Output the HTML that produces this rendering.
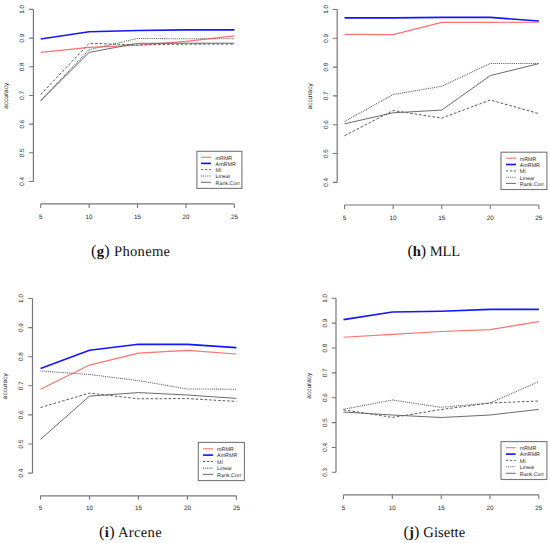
<!DOCTYPE html>
<html><head><meta charset="utf-8"><title>Accuracy plots</title>
<style>
html,body{margin:0;padding:0;background:#fff;}
body{width:550px;height:543px;overflow:hidden;}
svg{display:block;font-family:"Liberation Sans",sans-serif;text-rendering:geometricPrecision;}
text{stroke:none;}
text.cap,text.lg{stroke:none;}
.cap{font-family:"Liberation Serif",serif;font-size:14.6px;fill:#111;}
</style></head>
<body>
<svg width="550" height="543" viewBox="0 0 550 543">
<rect width="550" height="543" fill="#fff"/>
<path d="M33.4 9.4V181.48" stroke="#777777" stroke-width="1.2" fill="none"/>
<path d="M29.1 9.4H33.4M29.1 38.08H33.4M29.1 66.76H33.4M29.1 95.44H33.4M29.1 124.12H33.4M29.1 152.8H33.4M29.1 181.48H33.4" stroke="#777777" stroke-width="1.1" fill="none"/>
<text x="0" y="0" transform="translate(24.1 9.4) rotate(-90)" text-anchor="middle" font-size="6.3" fill="#262626">1.0</text>
<text x="0" y="0" transform="translate(24.1 38.08) rotate(-90)" text-anchor="middle" font-size="6.3" fill="#262626">0.9</text>
<text x="0" y="0" transform="translate(24.1 66.76) rotate(-90)" text-anchor="middle" font-size="6.3" fill="#262626">0.8</text>
<text x="0" y="0" transform="translate(24.1 95.44) rotate(-90)" text-anchor="middle" font-size="6.3" fill="#262626">0.7</text>
<text x="0" y="0" transform="translate(24.1 124.12) rotate(-90)" text-anchor="middle" font-size="6.3" fill="#262626">0.6</text>
<text x="0" y="0" transform="translate(24.1 152.8) rotate(-90)" text-anchor="middle" font-size="6.3" fill="#262626">0.5</text>
<text x="0" y="0" transform="translate(24.1 181.48) rotate(-90)" text-anchor="middle" font-size="6.3" fill="#262626">0.4</text>
<text transform="translate(8 95.84) rotate(-90)" text-anchor="middle" font-size="6.5" fill="#262626">accuracy</text>
<path d="M40.7 203.9H234.4" stroke="#777777" stroke-width="1.2" fill="none"/>
<path d="M40.7 203.9V207.9M89.12 203.9V207.9M137.55 203.9V207.9M185.97 203.9V207.9M234.4 203.9V207.9" stroke="#777777" stroke-width="1.1" fill="none"/>
<text x="40.7" y="218.5" text-anchor="middle" font-size="6.3" fill="#262626">5</text>
<text x="89.12" y="218.5" text-anchor="middle" font-size="6.3" fill="#262626">10</text>
<text x="137.55" y="218.5" text-anchor="middle" font-size="6.3" fill="#262626">15</text>
<text x="185.97" y="218.5" text-anchor="middle" font-size="6.3" fill="#262626">20</text>
<text x="234.4" y="218.5" text-anchor="middle" font-size="6.3" fill="#262626">25</text>
<path d="M40.7 52.4 L89.12 47.4 L137.55 45.3 L185.97 41.4 L234.4 35.9" stroke="#ff7272" stroke-width="1.1" fill="none" stroke-linejoin="round"/>
<path d="M40.7 39 L89.12 31.8 L137.55 30.5 L185.97 29.9 L234.4 29.9" stroke="#1616ff" stroke-width="1.65" fill="none" stroke-linejoin="round"/>
<path d="M40.7 94.5 L89.12 43.3 L137.55 45 L185.97 44.1 L234.4 44.1" stroke="#5a5a5a" stroke-width="1" stroke-dasharray="2.6 1.9" fill="none" stroke-linejoin="round"/>
<path d="M40.7 100.7 L89.12 49.7 L137.55 38.4 L185.97 38.8 L234.4 38.8" stroke="#5a5a5a" stroke-width="1.05" stroke-dasharray="0.95 0.95" fill="none" stroke-linejoin="round"/>
<path d="M40.7 100.7 L89.12 52.4 L137.55 43.3 L185.97 43.2 L234.4 43.2" stroke="#5a5a5a" stroke-width="0.9" fill="none" stroke-linejoin="round"/>
<rect x="196.9" y="151.3" width="45" height="37.1" fill="#fff" stroke="#777777" stroke-width="1.1"/>
<path d="M201 157.3H211" stroke="#ff7272" stroke-width="1.1" fill="none"/>
<text class="lg" x="215.6" y="159.6" font-size="5.35" fill="#2a2a2a">mRMR</text>
<path d="M201 163.4H211" stroke="#1616ff" stroke-width="1.65" fill="none"/>
<text class="lg" x="215.6" y="165.7" font-size="5.35" fill="#2a2a2a">AmRMR</text>
<path d="M201 169.6H211" stroke="#5a5a5a" stroke-width="1" stroke-dasharray="2.2 1.9" fill="none"/>
<text class="lg" x="215.6" y="171.9" font-size="5.35" fill="#2a2a2a">MI</text>
<path d="M201 175.9H211" stroke="#5a5a5a" stroke-width="1.05" stroke-dasharray="0.95 0.95" fill="none"/>
<text class="lg" x="215.6" y="178.2" font-size="5.35" fill="#2a2a2a">Linear</text>
<path d="M201 182.3H211" stroke="#5a5a5a" stroke-width="0.9" fill="none"/>
<text class="lg" x="215.6" y="184.6" font-size="5.35" fill="#2a2a2a">Rank.Corr</text>
<text x="91.1" y="255.8" class="cap" textLength="79" lengthAdjust="spacing"><tspan font-size="16.2px">(</tspan><tspan font-weight="bold">g</tspan><tspan font-size="16.2px">)</tspan> Phoneme</text>
<path d="M337.2 9.45V182.37" stroke="#777777" stroke-width="1.2" fill="none"/>
<path d="M332.9 9.45H337.2M332.9 38.27H337.2M332.9 67.09H337.2M332.9 95.91H337.2M332.9 124.73H337.2M332.9 153.55H337.2M332.9 182.37H337.2" stroke="#777777" stroke-width="1.1" fill="none"/>
<text x="0" y="0" transform="translate(327.9 9.45) rotate(-90)" text-anchor="middle" font-size="6.3" fill="#262626">1.0</text>
<text x="0" y="0" transform="translate(327.9 38.27) rotate(-90)" text-anchor="middle" font-size="6.3" fill="#262626">0.9</text>
<text x="0" y="0" transform="translate(327.9 67.09) rotate(-90)" text-anchor="middle" font-size="6.3" fill="#262626">0.8</text>
<text x="0" y="0" transform="translate(327.9 95.91) rotate(-90)" text-anchor="middle" font-size="6.3" fill="#262626">0.7</text>
<text x="0" y="0" transform="translate(327.9 124.73) rotate(-90)" text-anchor="middle" font-size="6.3" fill="#262626">0.6</text>
<text x="0" y="0" transform="translate(327.9 153.55) rotate(-90)" text-anchor="middle" font-size="6.3" fill="#262626">0.5</text>
<text x="0" y="0" transform="translate(327.9 182.37) rotate(-90)" text-anchor="middle" font-size="6.3" fill="#262626">0.4</text>
<text transform="translate(311.5 96.31) rotate(-90)" text-anchor="middle" font-size="6.5" fill="#262626">accuracy</text>
<path d="M344.55 205H538.85" stroke="#777777" stroke-width="1.2" fill="none"/>
<path d="M344.55 205V209M393.12 205V209M441.7 205V209M490.28 205V209M538.85 205V209" stroke="#777777" stroke-width="1.1" fill="none"/>
<text x="344.55" y="219.6" text-anchor="middle" font-size="6.3" fill="#262626">5</text>
<text x="393.12" y="219.6" text-anchor="middle" font-size="6.3" fill="#262626">10</text>
<text x="441.7" y="219.6" text-anchor="middle" font-size="6.3" fill="#262626">15</text>
<text x="490.28" y="219.6" text-anchor="middle" font-size="6.3" fill="#262626">20</text>
<text x="538.85" y="219.6" text-anchor="middle" font-size="6.3" fill="#262626">25</text>
<path d="M344.55 34.4 L393.12 34.6 L441.7 22.4 L490.28 22.4 L538.85 22.2" stroke="#ff7272" stroke-width="1.1" fill="none" stroke-linejoin="round"/>
<path d="M344.55 17.8 L393.12 17.8 L441.7 17.4 L490.28 17.4 L538.85 21" stroke="#1616ff" stroke-width="1.65" fill="none" stroke-linejoin="round"/>
<path d="M344.55 135.7 L393.12 110.5 L441.7 118.1 L490.28 100 L538.85 113.6" stroke="#5a5a5a" stroke-width="1" stroke-dasharray="2.6 1.9" fill="none" stroke-linejoin="round"/>
<path d="M344.55 121.5 L393.12 94.5 L441.7 86.3 L490.28 63.4 L538.85 63.6" stroke="#5a5a5a" stroke-width="1.05" stroke-dasharray="0.95 0.95" fill="none" stroke-linejoin="round"/>
<path d="M344.55 123.8 L393.12 112.8 L441.7 110.1 L490.28 75.6 L538.85 63.6" stroke="#5a5a5a" stroke-width="0.9" fill="none" stroke-linejoin="round"/>
<rect x="501" y="152.2" width="45.9" height="37.3" fill="#fff" stroke="#777777" stroke-width="1.1"/>
<path d="M506 158.2H516" stroke="#ff7272" stroke-width="1.1" fill="none"/>
<text class="lg" x="519.8" y="160.5" font-size="5.35" fill="#2a2a2a">mRMR</text>
<path d="M506 164.5H516" stroke="#1616ff" stroke-width="1.65" fill="none"/>
<text class="lg" x="519.8" y="166.8" font-size="5.35" fill="#2a2a2a">AmRMR</text>
<path d="M506 170.9H516" stroke="#5a5a5a" stroke-width="1" stroke-dasharray="2.2 1.9" fill="none"/>
<text class="lg" x="519.8" y="173.2" font-size="5.35" fill="#2a2a2a">MI</text>
<path d="M506 177.3H516" stroke="#5a5a5a" stroke-width="1.05" stroke-dasharray="0.95 0.95" fill="none"/>
<text class="lg" x="519.8" y="179.6" font-size="5.35" fill="#2a2a2a">Linear</text>
<path d="M506 183.4H516" stroke="#5a5a5a" stroke-width="0.9" fill="none"/>
<text class="lg" x="519.8" y="185.7" font-size="5.35" fill="#2a2a2a">Rank.Corr</text>
<text x="407.6" y="255.8" class="cap" textLength="52.6" lengthAdjust="spacing"><tspan font-size="16.2px">(</tspan><tspan font-weight="bold">h</tspan><tspan font-size="16.2px">)</tspan> MLL</text>
<path d="M32.5 298.5V473.1" stroke="#777777" stroke-width="1.2" fill="none"/>
<path d="M28.2 298.5H32.5M28.2 327.6H32.5M28.2 356.7H32.5M28.2 385.8H32.5M28.2 414.9H32.5M28.2 444H32.5M28.2 473.1H32.5" stroke="#777777" stroke-width="1.1" fill="none"/>
<text x="0" y="0" transform="translate(23.2 298.5) rotate(-90)" text-anchor="middle" font-size="6.3" fill="#262626">1.0</text>
<text x="0" y="0" transform="translate(23.2 327.6) rotate(-90)" text-anchor="middle" font-size="6.3" fill="#262626">0.9</text>
<text x="0" y="0" transform="translate(23.2 356.7) rotate(-90)" text-anchor="middle" font-size="6.3" fill="#262626">0.8</text>
<text x="0" y="0" transform="translate(23.2 385.8) rotate(-90)" text-anchor="middle" font-size="6.3" fill="#262626">0.7</text>
<text x="0" y="0" transform="translate(23.2 414.9) rotate(-90)" text-anchor="middle" font-size="6.3" fill="#262626">0.6</text>
<text x="0" y="0" transform="translate(23.2 444) rotate(-90)" text-anchor="middle" font-size="6.3" fill="#262626">0.5</text>
<text x="0" y="0" transform="translate(23.2 473.1) rotate(-90)" text-anchor="middle" font-size="6.3" fill="#262626">0.4</text>
<text transform="translate(7.1 386.2) rotate(-90)" text-anchor="middle" font-size="6.5" fill="#262626">accuracy</text>
<path d="M40.55 495.85H236.4" stroke="#777777" stroke-width="1.2" fill="none"/>
<path d="M40.55 495.85V499.85M89.51 495.85V499.85M138.48 495.85V499.85M187.44 495.85V499.85M236.4 495.85V499.85" stroke="#777777" stroke-width="1.1" fill="none"/>
<text x="40.55" y="510.45" text-anchor="middle" font-size="6.3" fill="#262626">5</text>
<text x="89.51" y="510.45" text-anchor="middle" font-size="6.3" fill="#262626">10</text>
<text x="138.48" y="510.45" text-anchor="middle" font-size="6.3" fill="#262626">15</text>
<text x="187.44" y="510.45" text-anchor="middle" font-size="6.3" fill="#262626">20</text>
<text x="236.4" y="510.45" text-anchor="middle" font-size="6.3" fill="#262626">25</text>
<path d="M40.55 389.2 L89.51 365.1 L138.48 353.1 L187.44 350.4 L236.4 354" stroke="#ff7272" stroke-width="1.1" fill="none" stroke-linejoin="round"/>
<path d="M40.55 368.4 L89.51 350.3 L138.48 344.3 L187.44 344.4 L236.4 347.6" stroke="#1616ff" stroke-width="1.65" fill="none" stroke-linejoin="round"/>
<path d="M40.55 407.5 L89.51 393.1 L138.48 398.8 L187.44 398.6 L236.4 401.4" stroke="#5a5a5a" stroke-width="1" stroke-dasharray="2.6 1.9" fill="none" stroke-linejoin="round"/>
<path d="M40.55 371 L89.51 374.5 L138.48 380.6 L187.44 389 L236.4 389.2" stroke="#5a5a5a" stroke-width="1.05" stroke-dasharray="0.95 0.95" fill="none" stroke-linejoin="round"/>
<path d="M40.55 439.3 L89.51 396.1 L138.48 392.6 L187.44 395 L236.4 398.4" stroke="#5a5a5a" stroke-width="0.9" fill="none" stroke-linejoin="round"/>
<rect x="198.3" y="442.4" width="46.1" height="38.2" fill="#fff" stroke="#777777" stroke-width="1.1"/>
<path d="M203 448.8H213" stroke="#ff7272" stroke-width="1.1" fill="none"/>
<text class="lg" x="217.1" y="451.1" font-size="5.35" fill="#2a2a2a">mRMR</text>
<path d="M203 455.1H213" stroke="#1616ff" stroke-width="1.65" fill="none"/>
<text class="lg" x="217.1" y="457.4" font-size="5.35" fill="#2a2a2a">AmRMR</text>
<path d="M203 461.5H213" stroke="#5a5a5a" stroke-width="1" stroke-dasharray="2.2 1.9" fill="none"/>
<text class="lg" x="217.1" y="463.8" font-size="5.35" fill="#2a2a2a">MI</text>
<path d="M203 468.1H213" stroke="#5a5a5a" stroke-width="1.05" stroke-dasharray="0.95 0.95" fill="none"/>
<text class="lg" x="217.1" y="470.4" font-size="5.35" fill="#2a2a2a">Linear</text>
<path d="M203 474.4H213" stroke="#5a5a5a" stroke-width="0.9" fill="none"/>
<text class="lg" x="217.1" y="476.7" font-size="5.35" fill="#2a2a2a">Rank.Corr</text>
<text x="99.1" y="537" class="cap" textLength="62.6" lengthAdjust="spacing"><tspan font-size="16.2px">(</tspan><tspan font-weight="bold">i</tspan><tspan font-size="16.2px">)</tspan> Arcene</text>
<path d="M336 298.3V472.32" stroke="#777777" stroke-width="1.2" fill="none"/>
<path d="M331.7 298.3H336M331.7 323.16H336M331.7 348.02H336M331.7 372.88H336M331.7 397.74H336M331.7 422.6H336M331.7 447.46H336M331.7 472.32H336" stroke="#777777" stroke-width="1.1" fill="none"/>
<text x="0" y="0" transform="translate(326.7 298.3) rotate(-90)" text-anchor="middle" font-size="6.3" fill="#262626">1.0</text>
<text x="0" y="0" transform="translate(326.7 323.16) rotate(-90)" text-anchor="middle" font-size="6.3" fill="#262626">0.9</text>
<text x="0" y="0" transform="translate(326.7 348.02) rotate(-90)" text-anchor="middle" font-size="6.3" fill="#262626">0.8</text>
<text x="0" y="0" transform="translate(326.7 372.88) rotate(-90)" text-anchor="middle" font-size="6.3" fill="#262626">0.7</text>
<text x="0" y="0" transform="translate(326.7 397.74) rotate(-90)" text-anchor="middle" font-size="6.3" fill="#262626">0.6</text>
<text x="0" y="0" transform="translate(326.7 422.6) rotate(-90)" text-anchor="middle" font-size="6.3" fill="#262626">0.5</text>
<text x="0" y="0" transform="translate(326.7 447.46) rotate(-90)" text-anchor="middle" font-size="6.3" fill="#262626">0.4</text>
<text x="0" y="0" transform="translate(326.7 472.32) rotate(-90)" text-anchor="middle" font-size="6.3" fill="#262626">0.3</text>
<text transform="translate(310.7 385.71) rotate(-90)" text-anchor="middle" font-size="6.5" fill="#262626">accuracy</text>
<path d="M343.5 494.9H538.85" stroke="#777777" stroke-width="1.2" fill="none"/>
<path d="M343.5 494.9V498.9M392.34 494.9V498.9M441.18 494.9V498.9M490.01 494.9V498.9M538.85 494.9V498.9" stroke="#777777" stroke-width="1.1" fill="none"/>
<text x="343.5" y="509.5" text-anchor="middle" font-size="6.3" fill="#262626">5</text>
<text x="392.34" y="509.5" text-anchor="middle" font-size="6.3" fill="#262626">10</text>
<text x="441.18" y="509.5" text-anchor="middle" font-size="6.3" fill="#262626">15</text>
<text x="490.01" y="509.5" text-anchor="middle" font-size="6.3" fill="#262626">20</text>
<text x="538.85" y="509.5" text-anchor="middle" font-size="6.3" fill="#262626">25</text>
<path d="M343.5 337.3 L392.34 334.4 L441.18 331.5 L490.01 329.6 L538.85 321.6" stroke="#ff7272" stroke-width="1.1" fill="none" stroke-linejoin="round"/>
<path d="M343.5 319.6 L392.34 312 L441.18 311.2 L490.01 309.4 L538.85 309.4" stroke="#1616ff" stroke-width="1.65" fill="none" stroke-linejoin="round"/>
<path d="M343.5 409.8 L392.34 417.4 L441.18 409.5 L490.01 403 L538.85 401" stroke="#5a5a5a" stroke-width="1" stroke-dasharray="2.6 1.9" fill="none" stroke-linejoin="round"/>
<path d="M343.5 409.3 L392.34 400 L441.18 407.3 L490.01 403 L538.85 381.6" stroke="#5a5a5a" stroke-width="1.05" stroke-dasharray="0.95 0.95" fill="none" stroke-linejoin="round"/>
<path d="M343.5 412 L392.34 415 L441.18 417.5 L490.01 415 L538.85 409.4" stroke="#5a5a5a" stroke-width="0.9" fill="none" stroke-linejoin="round"/>
<rect x="501" y="441.6" width="45.9" height="37.9" fill="#fff" stroke="#777777" stroke-width="1.1"/>
<path d="M506 447.7H515.6" stroke="#ff7272" stroke-width="1.1" fill="none"/>
<text class="lg" x="519.8" y="450" font-size="5.35" fill="#2a2a2a">mRMR</text>
<path d="M506 454.1H515.6" stroke="#1616ff" stroke-width="1.65" fill="none"/>
<text class="lg" x="519.8" y="456.4" font-size="5.35" fill="#2a2a2a">AmRMR</text>
<path d="M506 460.4H515.6" stroke="#5a5a5a" stroke-width="1" stroke-dasharray="2.2 1.9" fill="none"/>
<text class="lg" x="519.8" y="462.7" font-size="5.35" fill="#2a2a2a">MI</text>
<path d="M506 466.7H515.6" stroke="#5a5a5a" stroke-width="1.05" stroke-dasharray="0.95 0.95" fill="none"/>
<text class="lg" x="519.8" y="469" font-size="5.35" fill="#2a2a2a">Linear</text>
<path d="M506 473.3H515.6" stroke="#5a5a5a" stroke-width="0.9" fill="none"/>
<text class="lg" x="519.8" y="475.6" font-size="5.35" fill="#2a2a2a">Rank.Corr</text>
<text x="403.6" y="537" class="cap" textLength="61.6" lengthAdjust="spacing"><tspan font-size="16.2px">(</tspan><tspan font-weight="bold">j</tspan><tspan font-size="16.2px">)</tspan> Gisette</text>
</svg>
</body></html>
